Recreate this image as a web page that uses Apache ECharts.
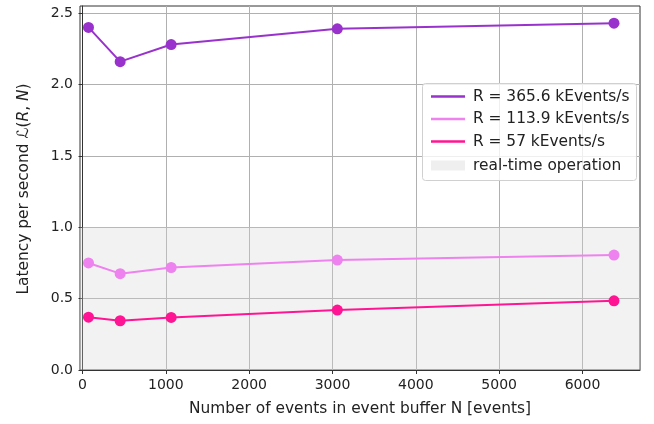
<!DOCTYPE html>
<html>
<head>
<meta charset="utf-8">
<script src="https://cdn.jsdelivr.net/npm/echarts@6/dist/echarts.min.js"></script>
<style>html,body{margin:0;padding:0;background:#fff;}#c{width:654px;height:424px;}</style>
</head>
<body>
<div id="c"></div>
<script>
var bufferSizes = [72, 452, 1064, 3058, 6378];
var latencyR365 = [2.40, 2.16, 2.28, 2.39, 2.43];
var latencyR114 = [0.75, 0.675, 0.718, 0.77, 0.805];
var latencyR57 = [0.37, 0.345, 0.368, 0.42, 0.485];
var seriesNames = ['R = 365.6 kEvents/s', 'R = 113.9 kEvents/s', 'R = 57 kEvents/s'];
var seriesColors = ['#9932cc', '#ee82ee', '#ff1493'];
var xTicks = [0, 1000, 2000, 3000, 4000, 5000, 6000];
var yTicks = [0, 0.5, 1.0, 1.5, 2.0, 2.5];
var realTimeLimit = 1.0;
var realTimeName = 'real-time operation';

function pairs(xs, ys) { return xs.map(function (x, i) { return [x, ys[i]]; }); }
var allValues = [latencyR365, latencyR114, latencyR57];
var FONT = 'DejaVu Sans';
var FS = 15.4;

var series = seriesNames.map(function (name, i) {
  return {
    name: name, type: 'line', data: pairs(bufferSizes, allValues[i]),
    symbol: 'circle', symbolSize: 11, z: 3,
    lineStyle: { width: 2, color: seriesColors[i] },
    itemStyle: { color: seriesColors[i] },
    emphasis: { disabled: true }, animation: false
  };
});
series.push({
  name: realTimeName, type: 'line', data: [], z: 1,
  itemStyle: { color: 'rgba(211,211,211,0.3)' },
  markArea: {
    silent: true,
    itemStyle: { color: 'rgba(211,211,211,0.3)' },
    data: [[{ yAxis: 0 }, { yAxis: realTimeLimit }]]
  },
  animation: false
});

var chart = echarts.init(document.getElementById('c'), null, { renderer: 'canvas' });
chart.setOption({
  animation: false,
  backgroundColor: '#fff',
  textStyle: { fontFamily: FONT },
  grid: { left: 80, right: 14, top: 6, bottom: 54, show: true, borderColor: '#333', borderWidth: 1, backgroundColor: 'transparent' },
  xAxis: {
    type: 'value', min: -30, max: 6690,
    name: 'Number of events in event buffer N [events]',
    nameLocation: 'middle', nameGap: 31,
    nameTextStyle: { fontFamily: FONT, fontSize: FS, color: '#222' },
    axisLine: { show: true, onZero: false, lineStyle: { color: '#333', width: 1 } },
    axisTick: { show: true, length: 4, customValues: xTicks, lineStyle: { color: '#333' } },
    axisLabel: { customValues: xTicks, margin: 8, fontFamily: FONT, fontSize: 14, color: '#222',
      formatter: function (v) { return String(v); } },
    splitLine: { show: true, lineStyle: { color: '#b0b0b0', width: 1 } }
  },
  yAxis: {
    type: 'value', min: 0, max: 2.55,
    axisLine: { show: true, lineStyle: { color: '#333', width: 1 } },
    axisTick: { show: true, length: 4, customValues: yTicks, lineStyle: { color: '#333' } },
    axisLabel: { customValues: yTicks, margin: 7, fontFamily: FONT, fontSize: 14, color: '#222',
      formatter: function (v) { return v.toFixed(1); } },
    splitLine: { show: true, lineStyle: { color: '#b0b0b0', width: 1 } }
  },
  graphic: [
    {
      type: 'text', x: 24, y: 189, rotation: Math.PI / 2,
      style: {
        text: '{a|Latency per second }{i|ℒ}{a|(}{i|R}{a|, }{i|N}{a|)}',
        align: 'center', verticalAlign: 'middle',
        rich: {
          a: { fontFamily: FONT, fontSize: FS, fill: '#222' },
          i: { fontFamily: FONT, fontSize: FS, fontStyle: 'italic', fill: '#222' }
        }
      }
    },
    {
      type: 'rect', left: 422, top: 83, z: 10,
      shape: { width: 214, height: 97, r: 3 },
      style: { fill: 'rgba(255,255,255,0.8)', stroke: '#d0d0d0', lineWidth: 1 }
    }
  ],
  legend: [
    {
      data: seriesNames, orient: 'vertical', left: 426, top: 84, z: 20,
      icon: 'rect', itemWidth: 34, itemHeight: 2.5, itemGap: 7.5,
      selectedMode: false,
      textStyle: { fontFamily: FONT, fontSize: FS, color: '#222', padding: [0, 0, 0, 3] }
    },
    {
      data: [{ name: realTimeName, icon: 'rect', itemStyle: { color: '#efefef' } }],
      orient: 'vertical', left: 426, top: 153, z: 20,
      itemWidth: 34, itemHeight: 10, selectedMode: false,
      textStyle: { fontFamily: FONT, fontSize: FS, color: '#222', padding: [0, 0, 0, 3] }
    }
  ],
  series: series
});
</script>
</body>
</html>
